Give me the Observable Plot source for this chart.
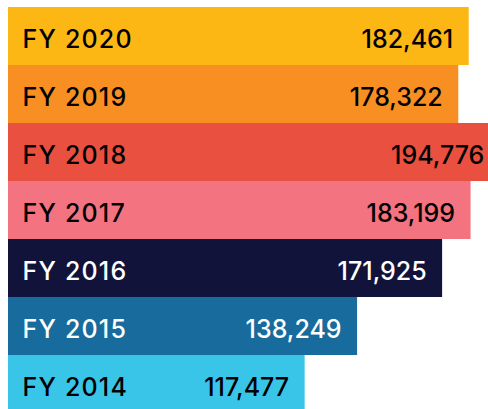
<!DOCTYPE html>
<html>
<head>
<meta charset="utf-8">
<script src="https://cdn.jsdelivr.net/npm/d3@7"></script>
<script src="https://cdn.jsdelivr.net/npm/@observablehq/plot@0.6"></script>
<style>
  html, body { margin: 0; padding: 0; background: #fff; overflow: hidden; }
</style>
</head>
<body>
<div id="chart"></div>
<script>
const years = ["FY 2020", "FY 2019", "FY 2018", "FY 2017", "FY 2016", "FY 2015", "FY 2014"];
const values = [182461, 178322, 194776, 183199, 171925, 138249, 117477];
const colors = ["#FDB714", "#F78F23", "#E9503F", "#F37381", "#12133A", "#186C9D", "#39C5E7"];
const textColors = ["#000", "#000", "#000", "#000", "#fff", "#fff", "#000"];

const data = years.map((y, i) => ({year: y, value: values[i], color: colors[i], tc: textColors[i]}));

const chart = Plot.plot({
  width: 488,
  height: 409,
  marginLeft: 8,
  marginRight: 0,
  marginTop: 6,
  marginBottom: 0,
  style: {fontFamily: "Inter, 'DejaVu Sans', sans-serif", background: "#fff"},
  x: {domain: [0, 190100], range: [8, 488], axis: null},
  y: {domain: years, range: [6, 414], padding: 0, axis: null},
  marks: [
    Plot.barX(data, {y: "year", x: "value", fill: "color", clip: true}),
    Plot.text(data, {y: "year", x: 0, text: "year", textAnchor: "start", dx: 14, dy: 3, fill: "tc", fontSize: 25, fontWeight: 500}),
    Plot.text(data, {y: "year", x: "value", text: d => d3.format(",")(d.value), textAnchor: "end", dx: -16, dy: 3, fill: "tc", fontSize: 25, fontWeight: 500})
  ]
});
const groups = Array.from(chart.querySelectorAll(":scope > g"));
if (groups[1]) groups[1].querySelectorAll("text").forEach(t => t.style.letterSpacing = "1.2px");
document.getElementById("chart").appendChild(chart);
</script>
</body>
</html>
